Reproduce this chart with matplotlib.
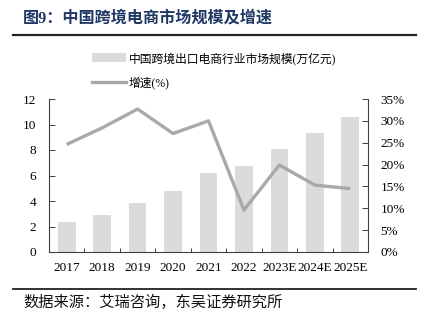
import matplotlib
matplotlib.use("Agg")
import matplotlib.pyplot as plt
from matplotlib.patches import Patch
from matplotlib.lines import Line2D
from matplotlib.ticker import FuncFormatter, FixedLocator

years = ["2017", "2018", "2019", "2020", "2021", "2022", "2023E", "2024E", "2025E"]
market_size = [2.36, 2.94, 3.85, 4.77, 6.19, 6.76, 8.07, 9.30, 10.57]   # 万亿元
growth_pct = [24.6, 28.4, 32.7, 27.1, 30.0, 9.6, 19.9, 15.3, 14.5]      # %

title_text = "图9：中国跨境电商市场规模及增速"
source_text = "数据来源：艾瑞咨询，东吴证券研究所"
bar_label = "中国跨境出口电商行业市场规模(万亿元)"
line_label = "增速(%)"

FONTS = ["Liberation Serif", "Noto Sans CJK SC", "DejaVu Sans"]
plt.rcParams["font.family"] = FONTS

BAR_COLOR = "#DBDBDB"
LINE_COLOR = "#A9A9A9"
AXIS_COLOR = "#404040"
TITLE_COLOR = "#1F3864"

fig = plt.figure(figsize=(4.21, 3.26), dpi=100)
ax = fig.add_axes([49 / 421, 1 - 252 / 326, (368 - 49) / 421, (252 - 99) / 326])
ax2 = ax.twinx()

x = list(range(len(years)))
ax.bar(x, market_size, width=0.5, color=BAR_COLOR, zorder=1)
ax2.plot(x, growth_pct, color=LINE_COLOR, lw=2.4, zorder=3, solid_capstyle="butt")

ax.set_xlim(-0.5, len(years) - 0.5)
ax.set_ylim(0, 12)
ax.set_yticks(range(0, 13, 2))
ax2.set_ylim(0, 35)
ax2.set_yticks(range(0, 36, 5))
ax2.yaxis.set_major_formatter(FuncFormatter(lambda v, p: f"{int(v)}%"))

ax.set_xticks(x)
ax.set_xticklabels(years)
ax.xaxis.set_minor_locator(FixedLocator([i + 0.5 for i in range(len(years) - 1)]))
ax.tick_params(axis="x", which="major", length=0, pad=7, labelsize=9.5)
ax.tick_params(axis="x", which="minor", direction="in", length=3, width=0.7, color=AXIS_COLOR)
ax.tick_params(axis="y", direction="in", length=4, width=0.7, color=AXIS_COLOR, labelsize=9.5, pad=9)
ax2.tick_params(axis="y", direction="in", length=4, width=0.7, color=AXIS_COLOR, labelsize=9.5, pad=9)

for a in (ax, ax2):
    a.spines["top"].set_visible(False)
    for s in ("left", "right", "bottom"):
        a.spines[s].set_color(AXIS_COLOR)
        a.spines[s].set_linewidth(0.8)
ax.spines["right"].set_visible(False)
ax2.spines["left"].set_visible(False)
ax2.spines["bottom"].set_visible(False)

ax.set_zorder(1)
ax.patch.set_visible(False)
ax2.set_zorder(2)

handles = [Patch(facecolor=BAR_COLOR, edgecolor="none"),
           Line2D([0], [0], color=LINE_COLOR, lw=2.4)]
fig.legend(handles, [bar_label, line_label], loc="upper left",
           bbox_to_anchor=(92 / 421, 1 - 52 / 326), frameon=False,
           fontsize=8.5, handlelength=2.9, handleheight=0.8, handletextpad=0.2,
           labelspacing=0.95, borderaxespad=0, borderpad=0)

# header and footer
fig.text(23 / 421, 1 - 18.5 / 326, title_text, fontsize=11.6, fontweight="bold",
         color=TITLE_COLOR, va="center", ha="left")
fig.add_artist(Line2D([13 / 421, 416 / 421], [1 - 35.3 / 326] * 2,
                      color="#222222", lw=1.6, transform=fig.transFigure))
fig.add_artist(Line2D([13 / 421, 416 / 421], [1 - 288.5 / 326] * 2,
                      color="#222222", lw=1.3, transform=fig.transFigure))
fig.text(23 / 421, 1 - 302.5 / 326, source_text, fontsize=11, color="#111111",
         va="center", ha="left")

fig.savefig("out.png", dpi=100)
